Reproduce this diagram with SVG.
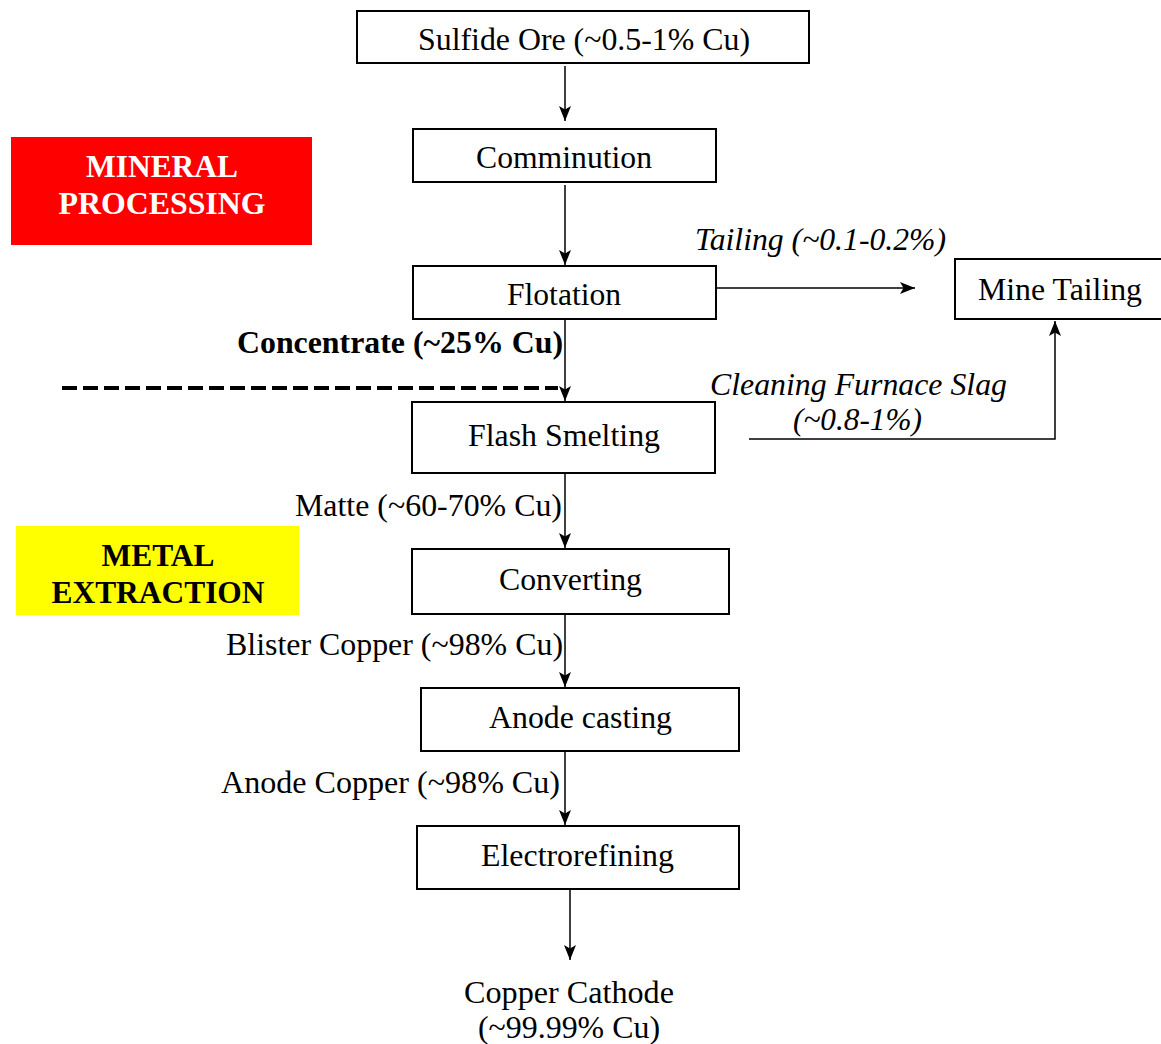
<svg xmlns="http://www.w3.org/2000/svg" width="1161" height="1044" viewBox="0 0 1161 1044">
  <style>
    .box { fill: #ffffff; stroke: #000000; stroke-width: 2; }
    .lbl { font-family: "Liberation Serif", "Times New Roman", serif; font-size: 31px; fill: #000000; }
    .mid { text-anchor: middle; }
    .it { font-style: italic; }
    .bold { font-weight: bold; }
    .edge { fill: none; stroke: #000000; stroke-width: 1.5; }
    .stage { font-family: "Liberation Serif", "Times New Roman", serif; font-size: 32px; font-weight: bold; text-anchor: middle; }
  </style>
  <defs>
    <marker id="arrow" viewBox="0 0 15 12" refX="15" refY="6" markerWidth="15" markerHeight="12" markerUnits="userSpaceOnUse" orient="auto">
      <path d="M0,0 L15,6 L0,12 L3.5,6 z" fill="#000000"/>
    </marker>
  </defs>

  <rect width="1161" height="1044" fill="#ffffff"/>

  <!-- stage banners -->
  <g id="stage-mineral">
    <rect x="11" y="137" width="301" height="108" fill="#ff0000"/>
    <text class="stage" x="162" y="177" fill="#ffffff" textLength="152" lengthAdjust="spacingAndGlyphs">MINERAL</text>
    <text class="stage" x="162" y="214" fill="#ffffff" textLength="207" lengthAdjust="spacingAndGlyphs">PROCESSING</text>
  </g>
  <g id="stage-metal">
    <rect x="16" y="526" width="283" height="89" fill="#ffff00"/>
    <text class="stage" x="158" y="566" fill="#000000" textLength="113" lengthAdjust="spacingAndGlyphs">METAL</text>
    <text class="stage" x="158" y="603" fill="#000000" textLength="213" lengthAdjust="spacingAndGlyphs">EXTRACTION</text>
  </g>

  <!-- boundary between the two stages -->
  <line x1="62" y1="388" x2="558" y2="388" stroke="#000000" stroke-width="4" stroke-dasharray="15 6"/>

  <!-- connectors -->
  <g id="connectors">
    <line class="edge" x1="565" y1="66" x2="565" y2="121" marker-end="url(#arrow)"/>
    <line class="edge" x1="565" y1="185" x2="565" y2="265" marker-end="url(#arrow)"/>
    <line class="edge" x1="716" y1="288" x2="915" y2="288" marker-end="url(#arrow)"/>
    <line class="edge" x1="565" y1="319" x2="565" y2="401" marker-end="url(#arrow)"/>
    <polyline class="edge" points="749,439 1055,439 1055,321" marker-end="url(#arrow)"/>
    <line class="edge" x1="565" y1="473" x2="565" y2="548" marker-end="url(#arrow)"/>
    <line class="edge" x1="565" y1="614" x2="565" y2="687" marker-end="url(#arrow)"/>
    <line class="edge" x1="565" y1="751" x2="565" y2="825" marker-end="url(#arrow)"/>
    <line class="edge" x1="570" y1="889" x2="570" y2="960" marker-end="url(#arrow)"/>

    <text class="lbl it" x="695" y="250" textLength="251" lengthAdjust="spacingAndGlyphs">Tailing (~0.1-0.2%)</text>
    <text class="lbl bold" x="237" y="353" textLength="326" lengthAdjust="spacingAndGlyphs">Concentrate (~25% Cu)</text>
    <text class="lbl it" x="710" y="395" textLength="297" lengthAdjust="spacingAndGlyphs">Cleaning Furnace Slag</text>
    <text class="lbl it" x="793" y="430" textLength="129" lengthAdjust="spacingAndGlyphs">(~0.8-1%)</text>
    <text class="lbl" x="295" y="516" textLength="267" lengthAdjust="spacingAndGlyphs">Matte (~60-70% Cu)</text>
    <text class="lbl" x="226" y="655" textLength="337" lengthAdjust="spacingAndGlyphs">Blister Copper (~98% Cu)</text>
    <text class="lbl" x="221" y="793" textLength="339" lengthAdjust="spacingAndGlyphs">Anode Copper (~98% Cu)</text>
  </g>

  <!-- process steps -->
  <g id="sulfide-ore">
    <rect class="box" x="357" y="11" width="452" height="52"/>
    <text class="lbl" x="418" y="50" textLength="332" lengthAdjust="spacingAndGlyphs">Sulfide Ore (~0.5-1% Cu)</text>
  </g>
  <g id="comminution">
    <rect class="box" x="413" y="129" width="303" height="53"/>
    <text class="lbl" x="476" y="168" textLength="176" lengthAdjust="spacingAndGlyphs">Comminution</text>
  </g>
  <g id="flotation">
    <rect class="box" x="413" y="266" width="303" height="53"/>
    <text class="lbl" x="507" y="305" textLength="114" lengthAdjust="spacingAndGlyphs">Flotation</text>
  </g>
  <g id="mine-tailing">
    <rect class="box" x="955" y="259" width="210" height="60"/>
    <text class="lbl" x="978" y="300" textLength="164" lengthAdjust="spacingAndGlyphs">Mine Tailing</text>
  </g>
  <g id="flash-smelting">
    <rect class="box" x="412" y="402" width="303" height="71"/>
    <text class="lbl" x="468" y="446" textLength="192" lengthAdjust="spacingAndGlyphs">Flash Smelting</text>
  </g>
  <g id="converting">
    <rect class="box" x="412" y="549" width="317" height="65"/>
    <text class="lbl" x="499" y="590" textLength="143" lengthAdjust="spacingAndGlyphs">Converting</text>
  </g>
  <g id="anode-casting">
    <rect class="box" x="421" y="688" width="318" height="63"/>
    <text class="lbl" x="489" y="728" textLength="183" lengthAdjust="spacingAndGlyphs">Anode casting</text>
  </g>
  <g id="electrorefining">
    <rect class="box" x="417" y="826" width="322" height="63"/>
    <text class="lbl" x="481" y="866" textLength="193" lengthAdjust="spacingAndGlyphs">Electrorefining</text>
  </g>
  <g id="copper-cathode">
    <text class="lbl" x="464" y="1003" textLength="210" lengthAdjust="spacingAndGlyphs">Copper Cathode</text>
    <text class="lbl" x="478" y="1038" textLength="182" lengthAdjust="spacingAndGlyphs">(~99.99% Cu)</text>
  </g>
</svg>
